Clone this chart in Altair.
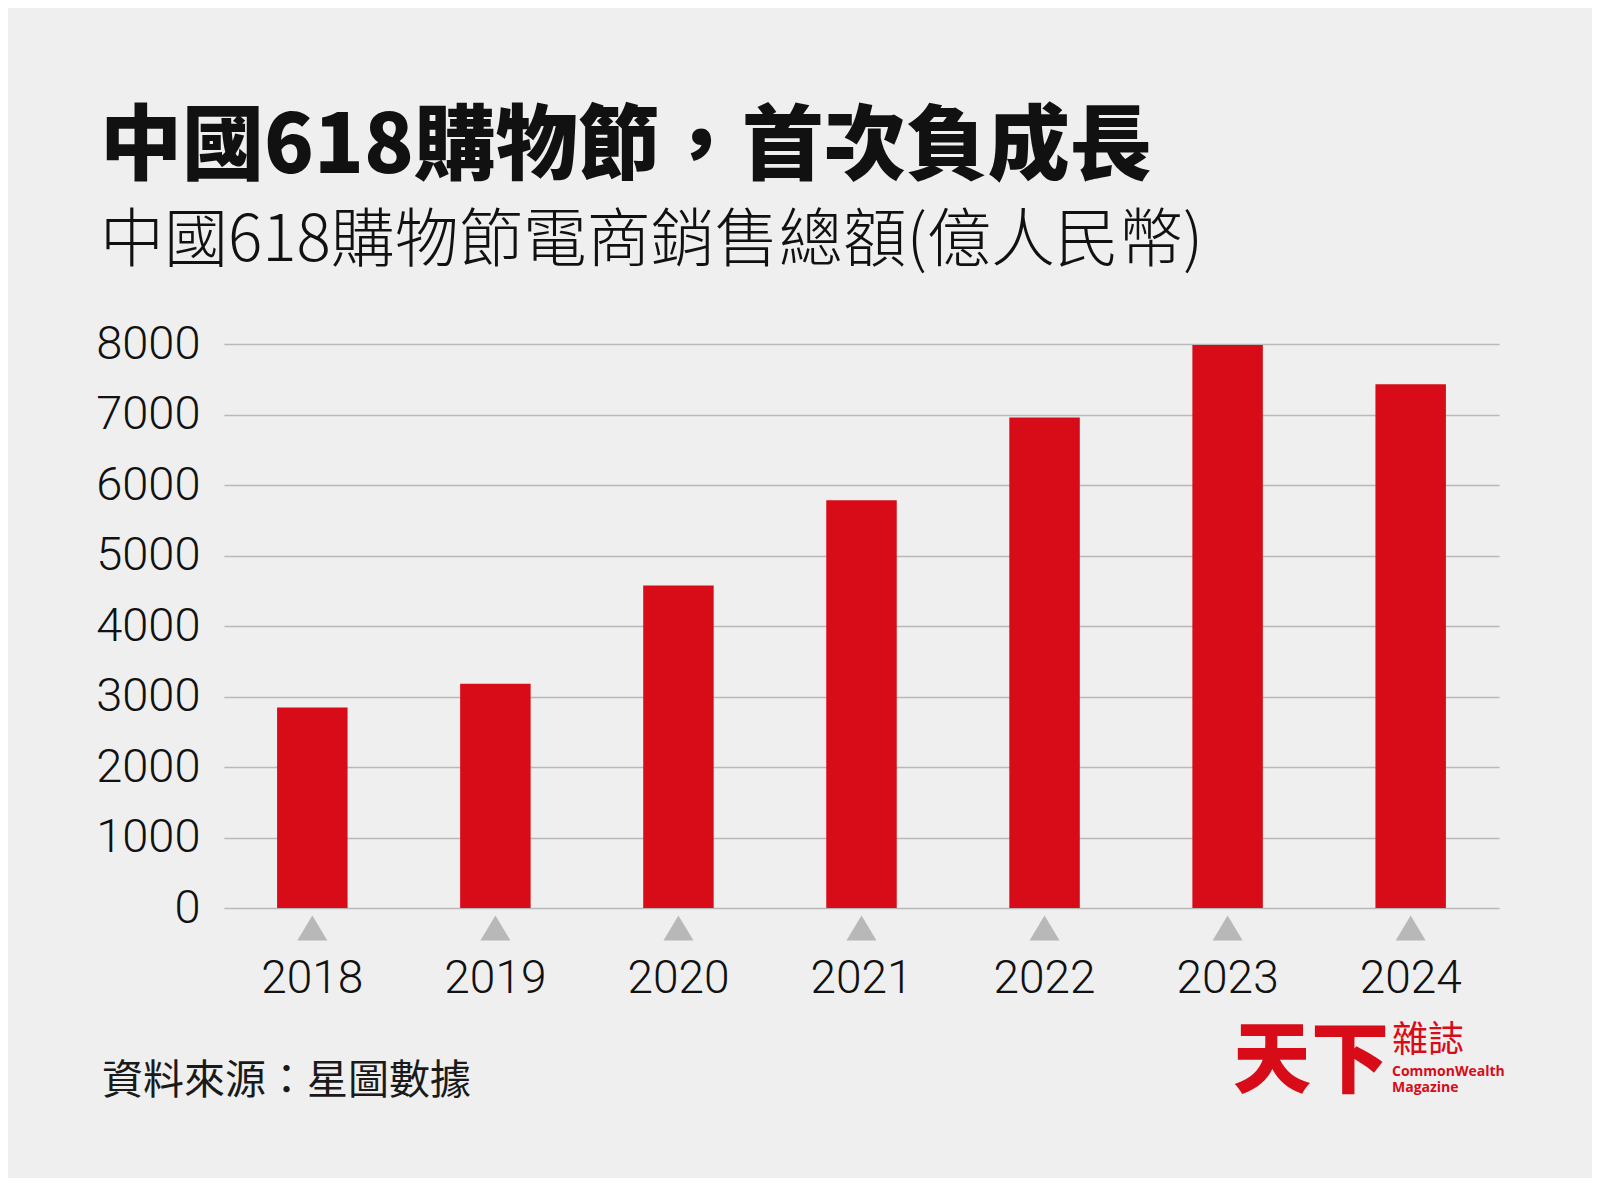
import altair as alt
import pandas as pd

# ---- data ----
years = ["2018", "2019", "2020", "2021", "2022", "2023", "2024"]
sales = [2844, 3180, 4573, 5785, 6959, 7987, 7428]   # 億人民幣
y_ticks = [0, 1000, 2000, 3000, 4000, 5000, 6000, 7000, 8000]

title_text = "中國618購物節，首次負成長"
subtitle_text = "中國618購物節電商銷售總額(億人民幣)"
source_text = "資料來源：星圖數據"
logo_main = "天下"
logo_zh = "雜誌"
logo_en1 = "CommonWealth"
logo_en2 = "Magazine"

NUM_FONT = "Roboto, Liberation Sans Narrow, sans-serif"
CJK_FONT = "Noto Sans CJK TC, Noto Sans CJK SC, sans-serif"
RED = "#d70c18"
GREY = "#b8b8b8"
BG = "#efefef"

df = pd.DataFrame({"year": years, "sales": sales})

x_enc = alt.X(
    "year:N",
    sort=years,
    scale=alt.Scale(paddingInner=0.615, paddingOuter=0.29),
    axis=alt.Axis(
        title=None, labelAngle=0, ticks=False, domain=False, grid=False,
        labelFont=NUM_FONT, labelFontSize=46, labelFontWeight=300,
        labelColor="#111111", labelPadding=84, labelBaseline="alphabetic",
    ),
)
y_enc = alt.Y(
    "sales:Q",
    scale=alt.Scale(domain=[0, 8000], nice=False),
    axis=alt.Axis(
        title=None, values=y_ticks, format="d", ticks=False, domain=False,
        labelFont=NUM_FONT, labelFontSize=47, labelFontWeight=300,
        labelColor="#111111", labelPadding=24,
        grid=True, gridColor=GREY, gridWidth=1.5,
    ),
)

base = alt.Chart(df)
bars = base.mark_bar(color=RED).encode(x=x_enc, y=y_enc)

triangles = base.mark_point(
    shape="M-1,0.83L0,-0.83L1,0.83Z", filled=True, size=900,
    color=GREY, opacity=1, strokeWidth=0, yOffset=20,
).encode(x=alt.X("year:N", sort=years), y=alt.datum(0))


def text_layer(txt, x, y, size, weight, color, font):
    return alt.Chart(pd.DataFrame({"t": [txt]})).mark_text(
        align="left", baseline="alphabetic", font=font, fontSize=size,
        fontWeight=weight, color=color,
    ).encode(x=alt.value(x), y=alt.value(y), text="t:N")


title = text_layer(title_text, -124, -171, 82, 900, "#111111", CJK_FONT)
subtitle = text_layer(subtitle_text, -124, -83, 64, 300, "#111111", CJK_FONT)
source = text_layer(source_text, -122, 750, 41, 400, "#1a1a1a", CJK_FONT)
logo1 = text_layer(logo_main, 1009, 743, 78, 900, RED, CJK_FONT)
logo2 = text_layer(logo_zh, 1168, 708, 36, 400, RED, CJK_FONT)
logo3 = text_layer(logo_en1, 1168, 732, 14, 700, RED, "Open Sans, sans-serif")
logo4 = text_layer(logo_en2, 1168, 748, 14, 700, RED, "Open Sans, sans-serif")

chart = alt.layer(
    bars, triangles, title, subtitle, source, logo1, logo2, logo3, logo4
).properties(
    width=1275,
    height=564,
    autosize=alt.AutoSizeParams(type="none"),
    padding={"left": 216, "top": 336, "right": 93, "bottom": 270},
).configure(
    background=BG,
).configure_view(
    stroke=None,
)

chart.save("out.html", embed_options={"renderer": "svg", "actions": False})
